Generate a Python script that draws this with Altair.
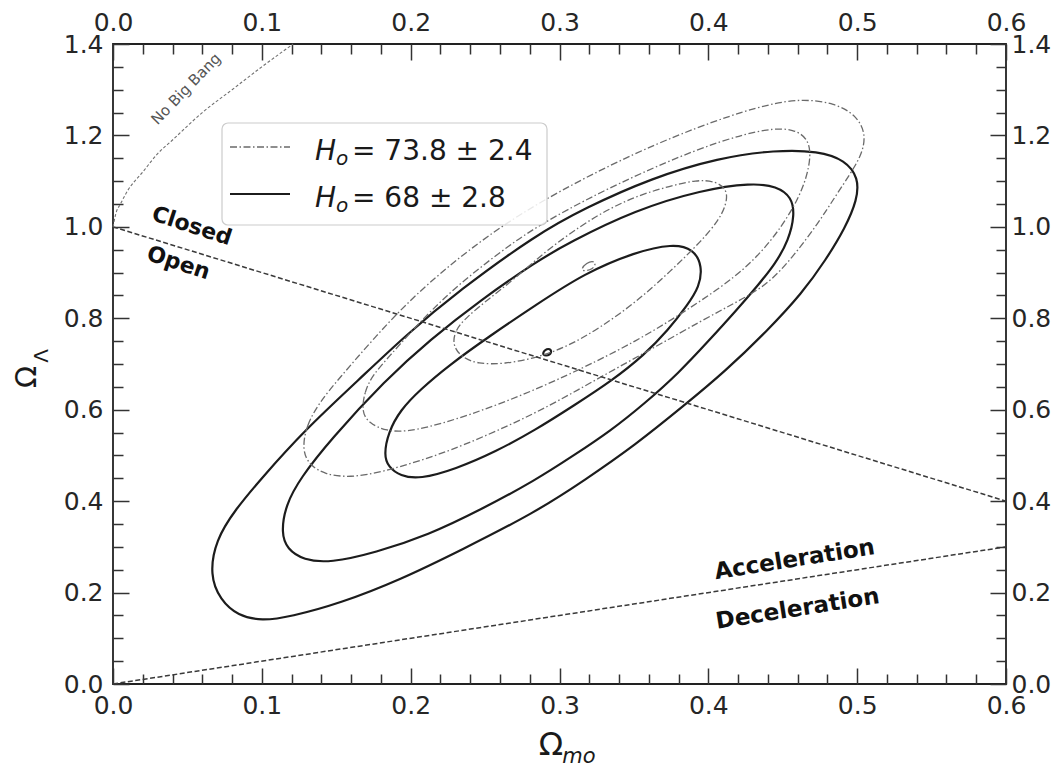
import altair as alt
import pandas as pd

# ---------------- data ----------------
# H0 = 68 +/- 2.8 (solid contours)
s1_x = [0.182,0.185,0.193,0.206,0.226,0.253,0.284,0.317,0.351,0.376,0.390,0.396,0.394,0.386,0.373,0.357,0.335,0.310,0.284,0.257,0.230,0.206,0.193,0.185]
s1_y = [0.501,0.551,0.599,0.643,0.698,0.761,0.829,0.899,0.945,0.963,0.952,0.914,0.869,0.829,0.774,0.720,0.663,0.610,0.556,0.508,0.470,0.448,0.455,0.475]
s2_x = [0.113,0.116,0.126,0.146,0.183,0.213,0.247,0.284,0.306,0.351,0.396,0.429,0.446,0.456,0.458,0.454,0.445,0.433,0.419,0.400,0.380,0.357,0.334,0.310,0.284,0.247,0.212,0.176,0.146,0.128,0.117]
s2_y = [0.330,0.392,0.451,0.534,0.665,0.753,0.840,0.923,0.965,1.037,1.081,1.096,1.089,1.065,1.026,0.971,0.919,0.871,0.818,0.750,0.680,0.613,0.553,0.501,0.446,0.381,0.326,0.287,0.265,0.271,0.295]
s3_x = [0.065,0.069,0.082,0.100,0.129,0.165,0.196,0.233,0.284,0.317,0.362,0.407,0.445,0.474,0.492,0.501,0.500,0.492,0.479,0.463,0.440,0.411,0.384,0.351,0.317,0.284,0.234,0.193,0.153,0.119,0.100,0.084,0.072]
s3_y = [0.238,0.315,0.381,0.451,0.556,0.665,0.761,0.862,0.982,1.041,1.107,1.151,1.168,1.166,1.146,1.107,1.059,0.998,0.928,0.855,0.774,0.683,0.610,0.523,0.446,0.376,0.293,0.228,0.177,0.147,0.138,0.149,0.184]
s0_x = [0.288,0.290,0.295,0.294]
s0_y = [0.718,0.733,0.733,0.718]

# H0 = 73.8 +/- 2.4 (dash-dot contours)
d1_x = [0.228,0.230,0.237,0.253,0.269,0.290,0.314,0.334,0.354,0.374,0.392,0.405,0.413,0.412,0.407,0.396,0.374,0.351,0.327,0.306,0.284,0.263,0.245,0.234]
d1_y = [0.742,0.774,0.801,0.844,0.884,0.945,1.002,1.041,1.070,1.089,1.103,1.100,1.081,1.048,1.015,0.971,0.901,0.834,0.779,0.739,0.713,0.700,0.700,0.715]
d2_x = [0.167,0.169,0.174,0.186,0.200,0.226,0.260,0.284,0.327,0.373,0.408,0.440,0.458,0.467,0.469,0.466,0.460,0.450,0.436,0.418,0.394,0.373,0.351,0.327,0.284,0.240,0.201,0.183,0.172]
d2_y = [0.595,0.639,0.674,0.718,0.770,0.858,0.945,1.000,1.076,1.144,1.188,1.216,1.214,1.192,1.157,1.107,1.059,1.004,0.945,0.890,0.836,0.792,0.750,0.709,0.643,0.588,0.551,0.553,0.571]
d3_x = [0.127,0.130,0.139,0.151,0.176,0.202,0.240,0.284,0.351,0.407,0.441,0.463,0.485,0.500,0.506,0.503,0.495,0.485,0.474,0.458,0.440,0.418,0.394,0.368,0.324,0.284,0.233,0.206,0.181,0.159,0.142,0.132]
d3_y = [0.512,0.567,0.617,0.665,0.759,0.849,0.954,1.052,1.164,1.236,1.269,1.280,1.271,1.243,1.201,1.157,1.114,1.065,1.009,0.939,0.873,0.834,0.792,0.744,0.665,0.591,0.518,0.488,0.464,0.451,0.459,0.479]
d0_x = [0.313,0.318,0.325,0.323]
d0_y = [0.901,0.923,0.926,0.906]

# boundary lines
flat_x = [0.0, 0.6]
flat_y = [1.0, 0.4]
acc_x = [0.0, 0.6]
acc_y = [0.0, 0.3]
nbb_x = [0.0, 0.002, 0.005, 0.01, 0.02, 0.03, 0.04, 0.06, 0.08, 0.10, 0.121]
nbb_y = [1.0, 1.03, 1.05, 1.08, 1.12, 1.16, 1.19, 1.25, 1.30, 1.35, 1.40]

x_major = [0.0, 0.1, 0.2, 0.3, 0.4, 0.5, 0.6]
x_minor = [0.02,0.04,0.06,0.08,0.12,0.14,0.16,0.18,0.22,0.24,0.26,0.28,0.32,0.34,0.36,0.38,0.42,0.44,0.46,0.48,0.52,0.54,0.56,0.58]
y_major = [0.0, 0.2, 0.4, 0.6, 0.8, 1.0, 1.2, 1.4]
y_minor = [0.05,0.1,0.15,0.25,0.3,0.35,0.45,0.5,0.55,0.65,0.7,0.75,0.85,0.9,0.95,1.05,1.1,1.15,1.25,1.3,1.35]

legend_labels = ["= 73.8 ± 2.4", "= 68 ± 2.8"]


def frame(groups):
    rows = []
    for name, xs, ys in groups:
        for i, (a, b) in enumerate(zip(xs, ys)):
            rows.append({"c": name, "i": i, "x": a, "y": b})
    return pd.DataFrame(rows)


solid_df = frame([("s1", s1_x, s1_y), ("s2", s2_x, s2_y), ("s3", s3_x, s3_y), ("s0", s0_x, s0_y)])
dash_df = frame([("d1", d1_x, d1_y), ("d2", d2_x, d2_y), ("d3", d3_x, d3_y), ("d0", d0_x, d0_y)])
lines_df = frame([("flat", flat_x, flat_y), ("acc", acc_x, acc_y)])
nbb_df = frame([("nbb", nbb_x, nbb_y)])
one = pd.DataFrame({"k": [0]})

FONT = "DejaVu Sans"
xs = alt.Scale(domain=[0, 0.6], nice=False, zero=False)
ys = alt.Scale(domain=[0, 1.4], nice=False, zero=False)


def ax(orient, values, size, labels, pad):
    return alt.Axis(orient=orient, values=values, tickSize=size, offset=-size,
                    labels=labels, labelPadding=pad, domain=False, grid=False,
                    ticks=True, tickColor="#333333", tickWidth=1.5,
                    labelFontSize=25, labelFont=FONT, labelColor="#262626",
                    format=".1f", labelFlush=False, labelOverlap=False, title="")


solid = alt.Chart(solid_df).mark_line(
    interpolate="basis-closed", stroke="#1c1c1c", strokeWidth=2.2
).encode(
    x=alt.X("x:Q", scale=xs, axis=ax("bottom", x_major, 16, True, 9)),
    y=alt.Y("y:Q", scale=ys, axis=ax("left", y_major, 16, True, 10)),
    detail="c:N", order="i:Q",
)

dash = alt.Chart(dash_df).mark_line(
    interpolate="basis-closed", stroke="#6a6a6a", strokeWidth=1.3,
    strokeDash=[7, 2.5, 1.5, 2.5]
).encode(
    x=alt.X("x:Q", scale=xs, axis=ax("top", x_major, 16, True, 9)),
    y=alt.Y("y:Q", scale=ys, axis=ax("right", y_major, 16, True, 5)),
    detail="c:N", order="i:Q",
)

lines = alt.Chart(lines_df).mark_line(
    stroke="#3a3a3a", strokeWidth=1.5, strokeDash=[5, 2.5]
).encode(
    x=alt.X("x:Q", scale=xs, axis=ax("bottom", x_minor, 10, False, 9)),
    y=alt.Y("y:Q", scale=ys, axis=ax("left", y_minor, 10, False, 10)),
    detail="c:N", order="i:Q",
)

nbb = alt.Chart(nbb_df).mark_line(
    interpolate="monotone", stroke="#707070", strokeWidth=1.1, strokeDash=[3, 2]
).encode(
    x=alt.X("x:Q", scale=xs, axis=ax("top", x_minor, 10, False, 9)),
    y=alt.Y("y:Q", scale=ys, axis=ax("right", y_minor, 10, False, 5)),
    order="i:Q",
)


def note(text, xv, yv, angle, size, weight="bold", color="#111111"):
    return alt.Chart(one).mark_text(
        text=text, angle=angle, fontSize=size, fontWeight=weight, font=FONT,
        color=color, align="center", baseline="middle"
    ).encode(
        x=alt.XDatum(xv, type="quantitative", scale=xs, axis=None),
        y=alt.YDatum(yv, type="quantitative", scale=ys, axis=None),
    )


notes = [
    note("No Big Bang", 0.049, 1.302, 314, 15, "normal", "#555555"),
    note("Closed", 0.053, 1.002, 18, 22),
    note("Open", 0.044, 0.921, 18, 22),
    note("Acceleration", 0.458, 0.272, 351, 23),
    note("Deceleration", 0.460, 0.164, 351, 23),
]


def ptext(text, px, py, size, style="normal", align="left", baseline="alphabetic", angle=0, color="#1a1a1a"):
    return alt.Chart(one).mark_text(
        text=text, fontSize=size, fontStyle=style, font=FONT, color=color,
        align=align, baseline=baseline, angle=angle
    ).encode(x=alt.value(px), y=alt.value(py))


legend_box = alt.Chart(one).mark_rect(
    fill="white", fillOpacity=0.85, stroke="#cccccc", strokeWidth=1.2, cornerRadius=6
).encode(x=alt.value(109), x2=alt.value(434), y=alt.value(79), y2=alt.value(181))

leg_dash = alt.Chart(one).mark_rule(
    stroke="#6a6a6a", strokeWidth=1.3, strokeDash=[7, 2.5, 1.5, 2.5]
).encode(x=alt.value(117), x2=alt.value(177), y=alt.value(103))
leg_solid = alt.Chart(one).mark_rule(
    stroke="#1c1c1c", strokeWidth=2.2
).encode(x=alt.value(117), x2=alt.value(177), y=alt.value(150))

legend_texts = []
for lab, base in zip(legend_labels, [116, 163]):
    legend_texts += [
        ptext("H", 202, base, 28, "italic"),
        ptext("o", 223, base + 5, 20, "italic"),
        ptext(lab, 239, base, 28),
    ]

titles = [
    ptext("Ω", 438, 701, 32, align="center", baseline="middle"),
    ptext("mo", 466, 713, 21, "italic", align="center", baseline="middle"),
    ptext("Ω", -86, 333, 29, align="center", baseline="middle", angle=270),
    ptext("Λ", -71, 312, 20, align="center", baseline="middle", angle=270),
]

chart = alt.layer(
    solid, dash, lines, nbb, *notes, legend_box, leg_dash, leg_solid, *legend_texts, *titles
).resolve_axis(
    x="independent", y="independent"
).properties(
    width=893, height=640,
    padding={"left": 105, "top": 36, "right": 47, "bottom": 83},
    autosize=alt.AutoSizeParams(type="none"),
).configure_view(stroke="#222222", strokeWidth=1.8)

chart.save("out.html", embed_options={"renderer": "svg", "actions": False})
